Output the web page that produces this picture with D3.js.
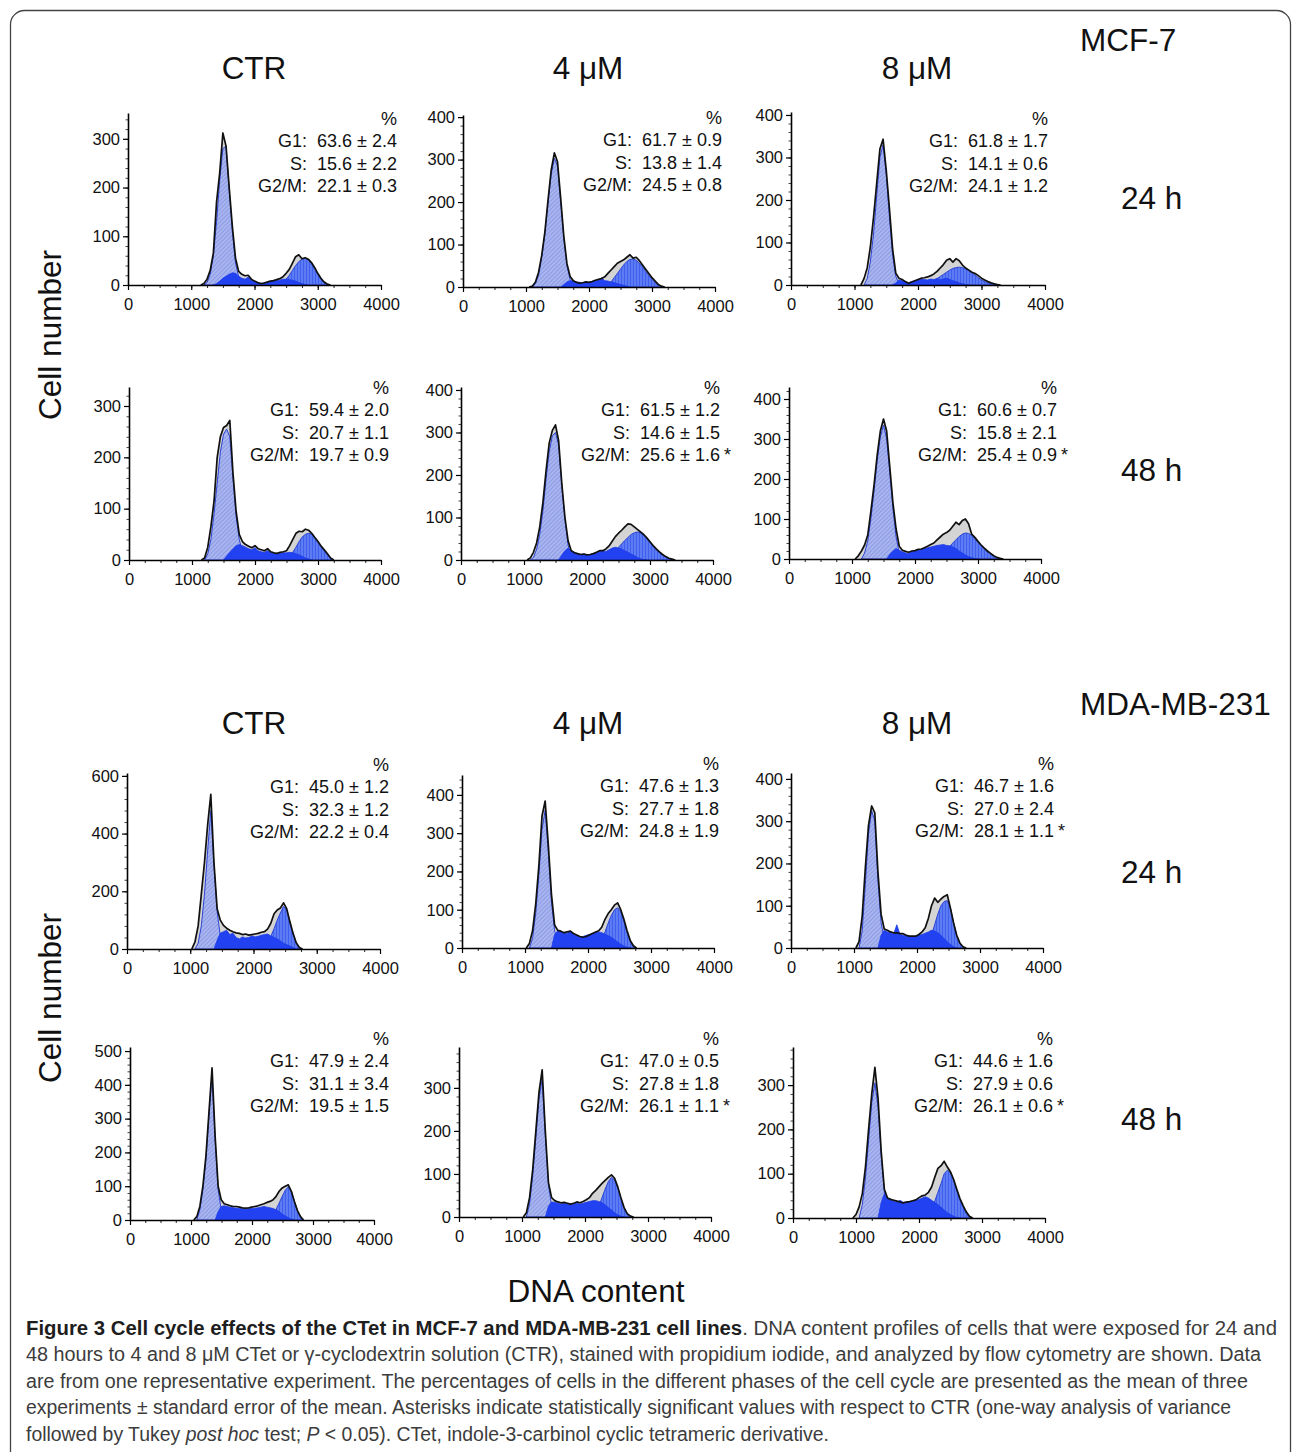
<!DOCTYPE html>
<html><head><meta charset="utf-8">
<script src="https://cdn.jsdelivr.net/npm/d3@7"></script>
<style>
body{margin:0;background:#fff;}
svg{display:block;font-family:"Liberation Sans",Arial,sans-serif;}
</style>
</head><body>
<svg id="fig" width="1293" height="1452"></svg>
<script>
// ---------------- DATA ----------------
const cellLines = ["MCF-7", "MDA-MB-231"];
const treatments = ["CTR", "4 μM", "8 μM"];
const times = ["24 h", "48 h"];
const xTicks = [0, 1000, 2000, 3000, 4000];
const yTickSets = [
  [0,100,200,300],[0,100,200,300,400],[0,100,200,300,400],
  [0,100,200,300],[0,100,200,300,400],[0,100,200,300,400],
  [0,200,400,600],[0,100,200,300,400],[0,100,200,300,400],
  [0,100,200,300,400,500],[0,100,200,300],[0,100,200,300]
];
const g1Stats = ["63.6 ± 2.4","61.7 ± 0.9","61.8 ± 1.7","59.4 ± 2.0","61.5 ± 1.2","60.6 ± 0.7","45.0 ± 1.2","47.6 ± 1.3","46.7 ± 1.6","47.9 ± 2.4","47.0 ± 0.5","44.6 ± 1.6"];
const sStats  = ["15.6 ± 2.2","13.8 ± 1.4","14.1 ± 0.6","20.7 ± 1.1","14.6 ± 1.5","15.8 ± 2.1","32.3 ± 1.2","27.7 ± 1.8","27.0 ± 2.4","31.1 ± 3.4","27.8 ± 1.8","27.9 ± 0.6"];
const g2Stats = ["22.1 ± 0.3","24.5 ± 0.8","24.1 ± 1.2","19.7 ± 0.9","25.6 ± 1.6","25.4 ± 0.9","22.2 ± 0.4","24.8 ± 1.9","28.1 ± 1.1","19.5 ± 1.5","26.1 ± 1.1","26.1 ± 0.6"];
const g2Significant = [false,false,false,false,true,true,false,false,true,false,true,true];

// histogram channel width (DNA content units) between successive counts
const binStep = 50;
// raw histogram (black outline)
const totalStart = [1150,1050,1100,1150,1050,1050,1025,1020,1030,1045,1020,950];
const totalCounts = [
  [0,3,12,30,66,170,230,312,285,200,120,55,28,22,19,20,12,8,5,3,4,6,8,9,11,13,17,24,32,45,58,62,54,56,53,46,36,24,14,6,2,0],
  [0,2,12,35,75,130,205,275,316,295,210,120,55,25,15,11,9,10,12,11,13,16,18,20,24,32,40,48,56,60,64,70,76,68,70,62,52,42,32,22,14,6,2,0],
  [0,15,40,90,160,240,320,343,270,180,85,28,16,13,8,4,7,10,13,16,17,19,22,26,32,40,48,58,62,54,62,57,47,40,35,30,27,22,16,12,8,5,3,1,0],
  [0,4,25,65,115,200,240,258,262,272,170,95,50,36,30,27,24,28,22,20,18,22,16,14,13,15,16,18,28,40,52,56,55,60,58,52,44,36,27,20,12,4,0],
  [0,5,18,40,78,135,210,275,305,318,280,180,100,45,22,17,15,13,14,12,13,15,18,22,22,26,33,44,55,63,70,78,85,84,78,72,66,60,52,43,34,26,19,13,8,4,2,0],
  [0,8,20,35,60,120,185,260,320,350,320,230,140,75,32,22,19,17,20,21,24,25,28,32,36,40,48,55,62,66,72,82,92,86,96,100,88,62,54,44,35,27,20,14,8,4,2,0],
  [0,25,80,190,300,430,536,300,140,100,82,72,65,60,56,54,50,52,48,50,52,54,58,60,70,90,122,135,142,160,140,95,55,22,5,0],
  [0,12,45,115,215,345,384,270,140,60,46,44,40,42,44,38,34,30,28,30,34,38,42,45,55,75,90,100,112,118,100,75,45,20,6,0],
  [0,15,75,190,290,336,320,180,80,45,42,38,36,36,34,34,30,28,28,28,32,38,48,70,100,118,108,116,122,126,95,60,30,12,3,0],
  [0,10,40,100,190,320,450,250,100,60,48,45,42,40,40,38,36,35,36,38,40,42,45,48,52,55,60,70,85,95,100,104,85,55,28,10,0],
  [0,10,45,110,200,290,342,200,80,45,38,35,33,34,32,30,32,35,33,36,40,45,55,62,70,78,85,92,98,90,70,45,22,8,2,0],
  [0,8,25,55,115,200,280,340,270,150,65,45,42,40,38,36,34,36,37,39,41,46,50,52,58,70,92,112,118,128,115,104,87,65,44,28,14,4,0]
];
// fitted G0/G1 component
const g1Start = [1200,1100,1150,1200,1100,1150,1075,1070,1080,1095,1070,1050];
const g1Counts = [
  [0,5,22,60,130,215,280,285,195,110,45,16,4,0],
  [0,8,28,70,125,200,265,303,285,200,115,50,18,4,0],
  [0,15,55,120,210,300,330,260,160,70,20,4,0],
  [0,12,40,90,150,210,245,255,240,160,85,40,15,4,0],
  [0,6,25,60,115,190,255,292,300,270,175,95,35,8,0],
  [0,15,45,100,170,245,305,335,300,215,125,55,15,3,0],
  [0,20,80,190,340,480,290,130,45,20,7,0],
  [0,25,90,190,310,360,250,120,45,15,4,0],
  [0,40,150,270,325,300,160,60,20,5,0],
  [0,30,90,180,310,430,240,90,30,8,0],
  [0,30,95,185,275,320,190,75,25,6,0],
  [0,30,90,175,260,305,250,140,60,20,5,0]
];
// fitted S component
const sStart = [1350,1550,1600,1500,1550,1550,1375,1420,1380,1395,1370,1350];
const sCounts = [
  [0,3,8,14,18,22,25,24,18,14,12,16,10,7,5,3,4,5,7,8,9,10,12,12,11,10,8,5,3,1,0],
  [0,6,12,15,14,12,11,10,12,11,13,15,16,22,15,14,12,10,8,6,4,2,0],
  [0,5,12,10,8,5,8,10,12,14,13,12,14,13,15,12,14,16,13,10,8,5,3,1,0],
  [0,8,15,22,28,30,28,25,22,20,24,18,16,15,18,14,13,12,13,14,14,15,14,12,10,7,4,2,0],
  [0,12,22,28,22,18,15,13,14,12,13,15,16,20,22,20,24,28,30,28,26,22,18,14,10,6,3,1,0],
  [0,12,20,26,22,18,15,14,18,20,22,24,26,28,30,32,34,35,36,34,33,30,26,20,15,10,6,3,1,0],
  [0,30,55,60,65,50,55,40,35,42,38,40,45,42,44,48,50,52,45,40,35,28,20,15,10,5,0],
  [0,35,45,42,40,38,45,36,32,28,30,33,35,38,40,42,40,36,32,28,22,16,10,5,2,0],
  [0,30,42,38,36,34,55,32,30,28,27,26,27,30,32,35,38,42,40,36,30,22,15,8,3,0],
  [0,25,40,42,40,38,36,35,34,33,32,33,34,35,36,38,40,38,36,34,30,25,18,12,7,3,0],
  [0,25,35,34,32,30,32,30,28,30,32,30,32,34,36,38,38,36,33,28,22,16,10,5,2,0],
  [0,35,55,45,40,38,36,40,35,36,37,38,40,42,45,48,45,40,35,30,24,18,12,8,4,1,0]
];
// fitted G2/M component
const g2Start = [2350,2250,2100,2500,2250,2300,2125,2120,2130,2245,2120,2100];
const g2Counts = [
  [0,2,6,12,20,30,40,48,53,55,52,44,33,22,12,5,1,0],
  [0,5,12,22,32,42,52,60,65,66,63,56,47,37,27,18,10,4,1,0],
  [0,3,6,10,15,20,25,30,35,39,41,42,41,38,34,29,23,17,12,8,5,3,1,0],
  [0,6,15,25,36,45,50,52,50,43,34,25,17,10,4,0],
  [0,4,9,15,22,30,38,46,53,60,64,66,64,58,50,41,32,24,17,11,6,3,1,0],
  [0,5,10,16,23,31,40,48,56,62,65,64,59,51,42,33,25,18,12,7,3,1,0],
  [0,10,25,45,70,100,125,148,135,88,52,20,5,0],
  [0,8,22,42,65,85,100,105,95,70,40,16,4,0],
  [0,12,30,55,80,100,110,112,95,60,30,10,2,0],
  [0,8,18,32,50,70,88,98,85,55,28,10,0],
  [0,10,25,45,65,82,92,86,68,44,22,8,2,0],
  [0,8,20,38,58,78,100,108,102,85,62,40,24,10,2,0]
];

// ---------------- LAYOUT (pixels) ----------------
// [x of 0, x of 4000, y baseline, y axis top, count at axis top]
const panelPos = [
  [128,381,285,113,353],[463,715,287,115,405],[791,1045,285,112,407],
  [129,381,560,387,337],[461,713,560,387,407],[789,1041,559,387,430],
  [127,380,949,773,610],[462,714,948,775,452],[791,1043,948,773,414],
  [130,374,1220,1047,512],[459,711,1217,1047,395],[793,1045,1218,1047,386]
];
// [right edge, centre of "%" line]
const statPos = [
  [397,118],[722,117],[1048,118],
  [389,387],[720,387],[1057,387],
  [389,764],[719,763],[1054,763],
  [389,1038],[719,1038],[1053,1038]
];
const colX = [254, 588, 917];
const colTitleY = [79, 734];
const lineLabelY = [51, 715];
const timeLabelY = [[209, 481], [883, 1130]];
const cellNumberY = [335, 998];

const svg = d3.select("#fig");
const defs = svg.append("defs");
const pa = defs.append("pattern").attr("id","hatchG1").attr("patternUnits","userSpaceOnUse")
  .attr("width",3).attr("height",3).attr("patternTransform","rotate(45)");
pa.append("rect").attr("width",3).attr("height",3).attr("fill","#aab5ee");
pa.append("line").attr("x1",0.5).attr("y1",0).attr("x2",0.5).attr("y2",3).attr("stroke","#8a9be8").attr("stroke-width",1);
const pb = defs.append("pattern").attr("id","hatchG2").attr("patternUnits","userSpaceOnUse")
  .attr("width",3).attr("height",3);
pb.append("rect").attr("width",3).attr("height",3).attr("fill","#5d7bf2");
pb.append("line").attr("x1",0.5).attr("y1",0).attr("x2",0.5).attr("y2",3).attr("stroke","#3f60ee").attr("stroke-width",1);

// frame
svg.append("rect").attr("x",10.5).attr("y",10.5).attr("width",1280).attr("height",1520)
  .attr("rx",14).attr("fill","none").attr("stroke","#444").attr("stroke-width",1.3);

const bigFont = 31.5;
const txt = (x,y,s,opts={}) => svg.append("text").attr("x",x).attr("y",y)
  .attr("font-size",opts.size||bigFont).attr("fill","#111")
  .attr("text-anchor",opts.anchor||"start").text(s);

// headings
[0,1].forEach(b => {
  treatments.forEach((t,c) => txt(colX[c], colTitleY[b], t, {anchor:"middle"}));
  txt(1080, lineLabelY[b], cellLines[b]);
  times.forEach((t,r) => txt(1121, timeLabelY[b][r], t));
  svg.append("text").attr("transform",`translate(61,${cellNumberY[b]}) rotate(-90)`)
    .attr("text-anchor","middle").attr("font-size",bigFont).attr("fill","#111").text("Cell number");
});
txt(596, 1302, "DNA content", {anchor:"middle"});

const fmt = d3.format("d");

// panels
panelPos.forEach((pp, i) => {
  const [px0, px1, pyB, pyT, yTopVal] = pp;
  const x = d3.scaleLinear().domain([xTicks[0], xTicks[xTicks.length-1]]).range([px0, px1]);
  const y = d3.scaleLinear().domain([0, yTopVal]).range([pyB, pyT]);
  const g = svg.append("g");
  const pts = (start, vals) => vals.map((v,k) => [start + k*binStep, v]);
  const area = d3.area().x(d => x(d[0])).y0(y(0)).y1(d => y(d[1]));
  const line = d3.line().x(d => x(d[0])).y(d => y(d[1]));
  const tot = pts(totalStart[i], totalCounts[i]);
  g.append("path").attr("d", area(tot)).attr("fill","#d4d4d4");
  g.append("path").attr("d", area(pts(g1Start[i], g1Counts[i])))
    .attr("fill","url(#hatchG1)").attr("stroke","#2b43d6").attr("stroke-width",1);
  g.append("path").attr("d", area(pts(g2Start[i], g2Counts[i])))
    .attr("fill","url(#hatchG2)").attr("stroke","#2b43d6").attr("stroke-width",1);
  g.append("path").attr("d", area(pts(sStart[i], sCounts[i])))
    .attr("fill","#2242f2").attr("stroke","#1c3ae8").attr("stroke-width",0.8);
  g.append("path").attr("d", line(tot)).attr("fill","none")
    .attr("stroke","#111").attr("stroke-width",1.7).attr("stroke-linejoin","round");

  // minor ticks
  const xMinor = d3.range(xTicks[0], xTicks[xTicks.length-1] + 1, (xTicks[1]-xTicks[0])/4);
  g.append("g").attr("transform",`translate(0,${pyB})`)
    .call(d3.axisBottom(x).tickValues(xMinor).tickSize(3).tickSizeOuter(0).tickFormat(""))
    .call(a => a.select(".domain").remove())
    .attr("color","#222");
  const yt = yTickSets[i];
  const yMinor = d3.range(0, yTopVal, (yt[1]-yt[0])/5);
  g.append("g").attr("transform",`translate(${px0},0)`)
    .call(d3.axisLeft(y).tickValues(yMinor).tickSize(2.5).tickSizeOuter(0).tickFormat(""))
    .call(a => a.select(".domain").remove())
    .attr("color","#444");

  // major axes
  const xa = g.append("g").attr("transform",`translate(0,${pyB})`)
    .call(d3.axisBottom(x).tickValues(xTicks).tickFormat(fmt).tickSize(5).tickPadding(8).tickSizeOuter(0));
  const ya = g.append("g").attr("transform",`translate(${px0},0)`)
    .call(d3.axisLeft(y).tickValues(yt).tickFormat(fmt).tickSize(5).tickPadding(3).tickSizeOuter(0));
  [xa, ya].forEach(a => {
    a.attr("color","#000").attr("font-size",16.5).attr("font-family","'Liberation Sans', Arial, sans-serif");
    a.select(".domain").attr("stroke-width",1.6);
    a.selectAll(".tick line").attr("stroke-width",1.2);
    a.selectAll(".tick text").attr("fill","#111");
  });

  // statistics
  const [rx, cy] = statPos[i];
  const lines = ["%", "G1:  " + g1Stats[i], "S:  " + sStats[i], "G2/M:  " + g2Stats[i]];
  lines.forEach((s,k) => {
    g.append("text").attr("x", rx).attr("y", cy + k*22.5 + 6.5)
      .attr("text-anchor","end").attr("font-size",18).attr("fill","#111")
      .style("white-space","pre").text(s);
  });
  if (g2Significant[i]) {
    g.append("text").attr("x", rx + 4).attr("y", cy + 3*22.5 + 6.5)
      .attr("font-size",18).attr("fill","#111").text("*");
  }
});

// caption
const capX = 26, capY0 = 1335, capDY = 26.4;
const capWidths = [1251, 1235, 1222, 1205, 803];
const capFont = "'Liberation Sans Narrow', 'Liberation Sans', Arial, sans-serif";
const capLines = [
  [["Figure 3 Cell cycle effects of the CTet in MCF-7 and MDA-MB-231 cell lines","bold"],[". DNA content profiles of cells that were exposed for 24 and",""]],
  [["48 hours to 4 and 8 μM CTet or γ-cyclodextrin solution (CTR), stained with propidium iodide, and analyzed by flow cytometry are shown. Data",""]],
  [["are from one representative experiment. The percentages of cells in the different phases of the cell cycle are presented as the mean of three",""]],
  [["experiments ± standard error of the mean. Asterisks indicate statistically significant values with respect to CTR (one-way analysis of variance",""]],
  [["followed by Tukey ",""],["post hoc","italic"],[" test; ",""],["P","italic"],[" < 0.05). CTet, indole-3-carbinol cyclic tetrameric derivative.",""]]
];
capLines.forEach((parts, k) => {
  const t = svg.append("text").attr("x", capX).attr("y", capY0 + k*capDY)
    .attr("font-size", 19.5).attr("font-family", capFont).attr("fill","#3c3c3c")
    .attr("textLength", capWidths[k]).attr("lengthAdjust","spacingAndGlyphs");
  parts.forEach(([s, st]) => {
    const ts = t.append("tspan").text(s);
    if (st === "bold") ts.attr("font-weight","bold").attr("fill","#1e1e1e");
    if (st === "italic") ts.attr("font-style","italic");
  });
});
</script>
</body></html>
